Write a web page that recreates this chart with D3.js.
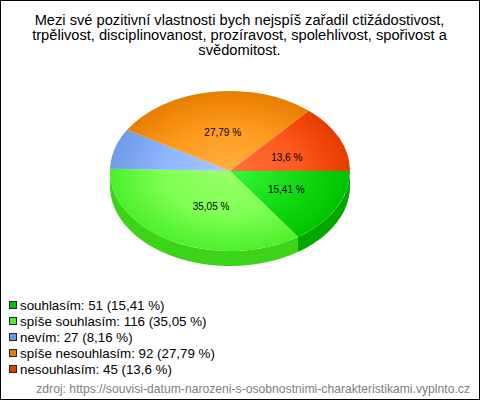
<!DOCTYPE html>
<html><head><meta charset="utf-8">
<script src="https://d3js.org/d3.v7.min.js"></script>
<style>html,body{margin:0;padding:0;background:#fff}svg{display:block}text{font-family:"Liberation Sans",Arial,sans-serif}</style>
</head><body><div id="c"></div>
<script>
const titleLines=["Mezi své pozitivní vlastnosti bych nejspíš zařadil ctižádostivost,","trpělivost, disciplinovanost, prozíravost, spolehlivost, spořivost a","svědomitost."];
const categories=["souhlasím","spíše souhlasím","nevím","spíše nesouhlasím","nesouhlasím"];
const counts=[51,116,27,92,45];
const percents=["15,41","35,05","8,16","27,79","13,6"];
const showLabel=[true,true,false,true,true];
const edgeColors=["#00c400","#4cf02a","#6f9ae6","#e67e00","#e63c00"];
const midColors=["#14dc14","#80ff55","#8fb6ff","#ff9a1e","#ff5a1e"];
const centerColors=["#38f838","#99ff66","#a6c8ff","#ffb040","#ff7040"];
const sideColors=["#00a800","#3dd318","#5a82c8","#c86c00","#c83200"];
const labelFx=[0.53,0.33,0.6,0.39,0.52];
const labelFy=[0.51,0.5,0.6,0.49,0.42];
const source="zdroj: https://souvisi-datum-narozeni-s-osobnostnimi-charakteristikami.vyplnto.cz";

const W=480,H=400,cx=230,cy=171,rx=120,ry=80,depth=15;
const svg=d3.select("#c").append("svg").attr("width",W).attr("height",H);
svg.append("rect").attr("x",0.5).attr("y",0.5).attr("width",W-1).attr("height",H-1).attr("fill","#fff").attr("stroke","#000");

svg.append("text").attr("text-anchor","middle").attr("font-size",14.67).attr("fill","#000")
 .selectAll("tspan").data(titleLines).join("tspan").attr("x",239.5).attr("y",(d,i)=>25+i*15).text(d=>d);

const defs=svg.append("defs");
categories.forEach((c,i)=>{
  const g=defs.append("radialGradient").attr("id","g"+i).attr("gradientUnits","userSpaceOnUse")
    .attr("cx",0).attr("cy",0).attr("r",rx);
  g.append("stop").attr("offset",0).attr("stop-color",centerColors[i]);
  g.append("stop").attr("offset",0.55).attr("stop-color",midColors[i]);
  g.append("stop").attr("offset",1).attr("stop-color",edgeColors[i]);
});

const pie=d3.pie().sort(null).startAngle(Math.PI/2).endAngle(Math.PI/2+2*Math.PI);
const arcs=pie(counts);
const arc=d3.arc().innerRadius(0).outerRadius(rx);
const side=d3.area().x(t=>cx+rx*Math.cos(t)).y0(t=>cy+ry*Math.sin(t)).y1(t=>cy+ry*Math.sin(t)+depth);
arcs.forEach((a,i)=>{
  const t0=a.startAngle-Math.PI/2,t1=Math.min(a.endAngle-Math.PI/2,Math.PI);
  if(t0>=Math.PI) return;
  const pts=d3.range(t0,t1,0.01).concat([t1]);
  svg.append("path").attr("d",side(pts)).attr("fill",sideColors[i]);
});
const pieTop=svg.append("g").attr("transform",`translate(${cx},${cy}) scale(1,${ry/rx})`);
pieTop.selectAll("path").data(arcs).join("path").attr("d",arc).attr("fill",(d,i)=>`url(#g${i})`);

const unitArc=d3.arc().innerRadius(1).outerRadius(1);
svg.append("g").selectAll("text").data(arcs).join("text")
  .filter((d,i)=>showLabel[i])
  .attr("text-anchor","middle").attr("font-size",10).attr("fill","#000")
  .attr("x",d=>cx+unitArc.centroid(d)[0]*rx*labelFx[d.index])
  .attr("y",d=>cy+unitArc.centroid(d)[1]*ry*labelFy[d.index]+3.5)
  .text(d=>percents[d.index]+" %");

const y=d3.scalePoint().domain(categories).range([305,369]);
const leg=svg.append("g").selectAll("g").data(categories).join("g");
leg.append("rect").attr("x",9.5).attr("y",c=>y(c)-3.5).attr("width",7).attr("height",7)
  .attr("fill",(c,i)=>edgeColors[i]).attr("stroke","#222");
leg.append("text").attr("x",20).attr("y",c=>y(c)+5).attr("font-size",13.33).attr("fill","#000")
  .text((c,i)=>`${c}: ${counts[i]} (${percents[i]} %)`);
svg.append("text").attr("x",470).attr("y",393).attr("text-anchor","end").attr("font-size",12.17).attr("fill","#808080").text(source);
</script></body></html>
